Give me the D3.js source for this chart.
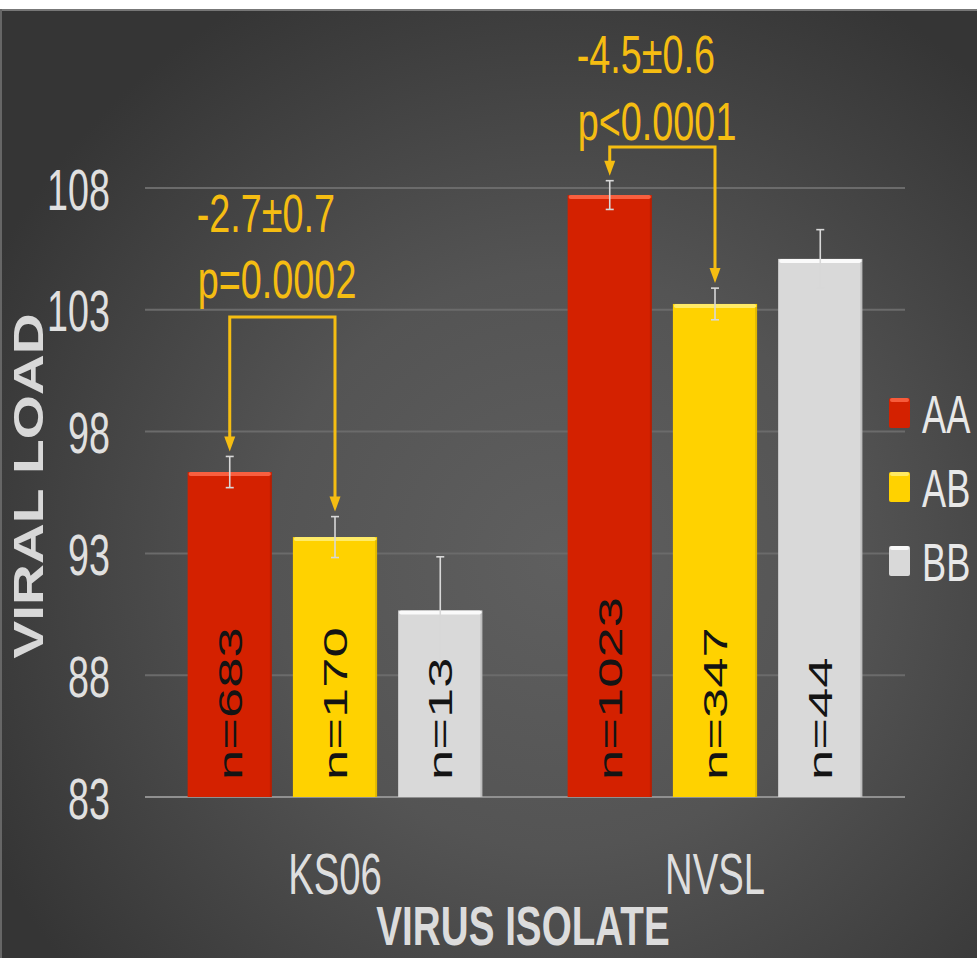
<!DOCTYPE html>
<html>
<head>
<meta charset="utf-8">
<script src="https://cdn.jsdelivr.net/npm/d3@7"></script>
<style>
  html, body { margin: 0; padding: 0; background: #3a3a3a; }
  svg { display: block; }
  text { font-family: "Liberation Sans", Arial, sans-serif; }
</style>
</head>
<body>
<script>
// Viral load by virus isolate and genotype
const categories = ["KS06", "NVSL"];
const genotypes = ["AA", "AB", "BB"];
const meansKS06 = [96.34, 93.67, 90.66];
const meansNVSL = [107.71, 103.24, 105.09];
const errKS06 = [0.64, 0.84, 2.2];
const errNVSL = [0.59, 0.65, 1.2];
const countsKS06 = [683, 170, 13];
const countsNVSL = [1023, 347, 44];
const yTicks = [83, 88, 93, 98, 103, 108];
const diffLabels = ["-2.7±0.7", "-4.5±0.6"];
const pLabels = ["p=0.0002", "p<0.0001"];
const colors = { AA: "#d42100", AB: "#ffd200", BB: "#d9d9d9" };
const highlights = { AA: "#ff6a4a", AB: "#fff07a", BB: "#ffffff" };

const W = 977, H = 958;
const plot = { left: 145, right: 905, top: 188, bottom: 797 };

const rows = [];
categories.forEach((c, ci) => {
  const m = ci === 0 ? meansKS06 : meansNVSL;
  const e = ci === 0 ? errKS06 : errNVSL;
  const n = ci === 0 ? countsKS06 : countsNVSL;
  genotypes.forEach((g, gi) => rows.push({ cat: c, g, mean: m[gi], err: e[gi], n: n[gi] }));
});

const svg = d3.select("body").append("svg").attr("width", W).attr("height", H);
const defs = svg.append("defs");

// background
const bg = defs.append("radialGradient").attr("id", "bg")
  .attr("gradientUnits", "userSpaceOnUse")
  .attr("cx", 560).attr("cy", 560).attr("r", 640);
bg.append("stop").attr("offset", 0).attr("stop-color", "#5f5f5f");
bg.append("stop").attr("offset", 0.45).attr("stop-color", "#545454");
bg.append("stop").attr("offset", 1).attr("stop-color", "#353535");
svg.append("rect").attr("width", W).attr("height", H).attr("fill", "url(#bg)");
svg.append("rect").attr("width", W).attr("height", 9).attr("fill", "#ffffff");
svg.append("rect").attr("y", 9).attr("width", W).attr("height", 2).attr("fill", "#777");
svg.append("rect").attr("x", 0).attr("y", 9).attr("width", 2).attr("height", H).attr("fill", "#666");

const y = d3.scaleLinear().domain([83, 108]).range([plot.bottom, plot.top]);
const x0 = d3.scaleBand().domain(categories).range([plot.left, plot.right]);
const x1 = d3.scaleBand().domain(genotypes).range([0, x0.bandwidth()])
  .paddingInner(0.2).paddingOuter(0.405);
const cx = d => x0(d.cat) + x1(d.g) + x1.bandwidth() / 2;

// gridlines
svg.append("g").selectAll("line").data(yTicks).join("line")
  .attr("x1", plot.left).attr("x2", plot.right)
  .attr("y1", d => y(d)).attr("y2", d => y(d))
  .attr("stroke", d => d === 83 ? "#909090" : "#6b6b6b")
  .attr("stroke-width", 2);

// y axis tick labels
const yAxis = svg.append("g").attr("transform", "translate(110,0)")
  .call(d3.axisLeft(y).tickValues(yTicks).tickSize(0).tickPadding(0));
yAxis.select(".domain").remove();
yAxis.selectAll("text")
  .attr("x", 0).attr("dy", null).attr("y", 0)
  .attr("transform", "translate(0,21) scale(0.65,1)")
  .attr("fill", "#e0e0e0").attr("font-size", 58)
  .attr("font-family", '"Liberation Sans", Arial, sans-serif')
  .attr("text-anchor", "end");

// bars
const bars = svg.append("g").selectAll("g").data(rows).join("g");
bars.append("rect")
  .attr("x", d => x0(d.cat) + x1(d.g)).attr("y", d => y(d.mean))
  .attr("width", x1.bandwidth()).attr("height", d => y(83) - y(d.mean))
  .attr("fill", d => colors[d.g]);
bars.append("rect")
  .attr("x", d => x0(d.cat) + x1(d.g) + 1).attr("y", d => y(d.mean))
  .attr("width", x1.bandwidth() - 2).attr("height", 4).attr("rx", 2)
  .attr("fill", d => highlights[d.g]).attr("opacity", 0.85);
bars.append("rect")
  .attr("x", d => x0(d.cat) + x1(d.g) + x1.bandwidth() - 2).attr("y", d => y(d.mean) + 3)
  .attr("width", 2).attr("height", d => y(83) - y(d.mean) - 3)
  .attr("fill", "#000").attr("opacity", 0.12);

// error bars
const eb = svg.append("g").selectAll("g").data(rows).join("g")
  .attr("stroke", "#d8d8d8").attr("stroke-width", 1.6);
eb.append("line").attr("x1", cx).attr("x2", cx)
  .attr("y1", d => y(d.mean + d.err)).attr("y2", d => y(d.mean - d.err));
eb.append("line").attr("x1", d => cx(d) - 4).attr("x2", d => cx(d) + 4)
  .attr("y1", d => y(d.mean + d.err)).attr("y2", d => y(d.mean + d.err));
eb.append("line").attr("x1", d => cx(d) - 4).attr("x2", d => cx(d) + 4)
  .attr("y1", d => y(d.mean - d.err)).attr("y2", d => y(d.mean - d.err));

// sample sizes inside bars
svg.append("g").selectAll("text").data(rows).join("text")
  .attr("transform", d => `translate(${cx(d) + 12},780) rotate(-90) scale(1.6,1)`)
  .attr("font-size", 34).attr("fill", "#141414").attr("text-anchor", "start")
  .text(d => "n=" + d.n);

// comparison brackets AA vs AB
const gold = "#f5bd12";
const bracketTop = { KS06: 317, NVSL: 147 };
const textBase = { KS06: [232, 298], NVSL: [73, 140] };
const ann = svg.append("g");
categories.forEach((c, i) => {
  const a = rows.find(r => r.cat === c && r.g === "AA");
  const b = rows.find(r => r.cat === c && r.g === "AB");
  const xa = cx(a), xb = cx(b), top = bracketTop[c];
  const tipA = y(a.mean + a.err) - 5, tipB = y(b.mean + b.err) - 5;
  ann.append("path")
    .attr("d", `M${xa},${tipA - 13}V${top}H${xb}V${tipB - 13}`)
    .attr("fill", "none").attr("stroke", gold).attr("stroke-width", 3);
  [[xa, tipA], [xb, tipB]].forEach(([px, py]) => {
    ann.append("path")
      .attr("d", `M${px - 5.5},${py - 15}L${px + 5.5},${py - 15}L${px},${py}Z`)
      .attr("fill", gold);
  });
  const tx = xa - 33;
  ann.append("text")
    .attr("transform", `translate(${tx},${textBase[c][0]}) scale(0.7,1)`)
    .attr("font-size", 54).attr("fill", gold).text(diffLabels[i]);
  ann.append("text")
    .attr("transform", `translate(${tx + 1},${textBase[c][1]}) scale(0.7,1)`)
    .attr("font-size", 54).attr("fill", gold).text(pLabels[i]);
});

// x axis category labels
svg.append("g").selectAll("text").data(categories).join("text")
  .attr("transform", d => `translate(${x0(d) + x0.bandwidth() / 2},894) scale(0.66,1)`)
  .attr("font-size", 58).attr("fill", "#dedede").attr("text-anchor", "middle")
  .text(d => d);

// axis titles
svg.append("text")
  .attr("transform", `translate(523,945) scale(0.69,1)`)
  .attr("font-size", 56).attr("font-weight", "bold").attr("fill", "#dcdcdc")
  .attr("text-anchor", "middle").text("VIRUS ISOLATE");
svg.append("text")
  .attr("transform", `translate(43,486) rotate(-90) scale(1.35,1)`)
  .attr("font-size", 42).attr("font-weight", "bold").attr("fill", "#d8d8d8")
  .attr("text-anchor", "middle").text("VIRAL LOAD");

// legend
const leg = svg.append("g").selectAll("g").data(genotypes).join("g")
  .attr("transform", (d, i) => `translate(889,${413 + i * 74})`);
leg.append("rect").attr("x", 0).attr("y", -15).attr("width", 21).attr("height", 30)
  .attr("rx", 2).attr("fill", d => colors[d]);
leg.append("rect").attr("x", 1).attr("y", -15).attr("width", 19).attr("height", 4)
  .attr("rx", 2).attr("fill", d => highlights[d]).attr("opacity", 0.8);
leg.append("text")
  .attr("transform", "translate(33,20) scale(0.67,1)")
  .attr("font-size", 54).attr("fill", "#e8e8e8").text(d => d);
</script>
</body>
</html>
